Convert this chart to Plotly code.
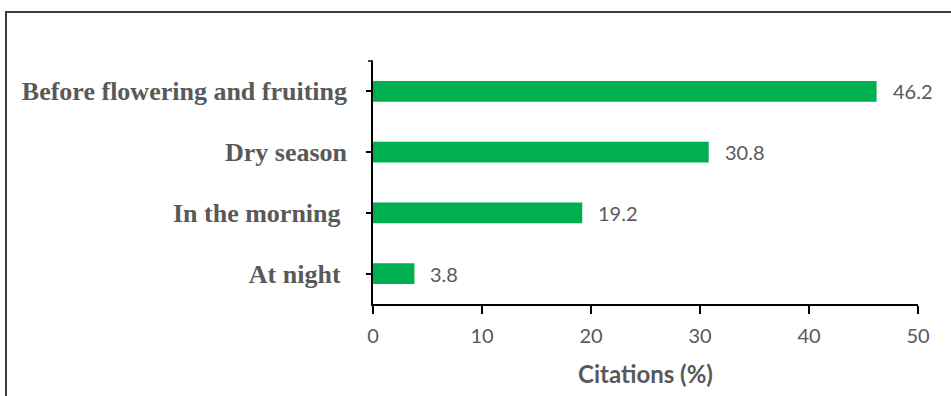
import plotly.graph_objects as go

categories = ["At night", "In the morning", "Dry season", "Before flowering and fruiting"]
category_labels = ["At night\u00a0", "In the morning\u00a0", "Dry season", "Before flowering and fruiting"]
values = [3.8, 19.2, 30.8, 46.2]
x_ticks = [0, 10, 20, 30, 40, 50]

W, H = 951, 396
ml, mr, mt, mb = 373, 33, 61, 92
pw = W - ml - mr
ph = H - mt - mb

GREEN = "#00B050"
GRAY = "#595959"

fig = go.Figure()
fig.add_trace(go.Bar(
    x=values, y=categories, orientation="h",
    marker=dict(color=GREEN, line=dict(width=0)),
    width=0.34,
    hoverinfo="skip",
))

for v, c in zip(values, categories):
    fig.add_annotation(
        x=v, y=c, xref="x", yref="y", text=f"{v:.1f}",
        showarrow=False, xanchor="left", yanchor="middle", xshift=14,
        font=dict(family="Lato", size=20, color=GRAY),
    )

# outer frame
fig.add_shape(type="rect", xref="paper", yref="paper",
              x0=(6 - ml) / pw, x1=(W + 20 - ml) / pw,
              y0=-(H + 20 - (H - mb)) / ph, y1=(H - mb - 12) / ph,
              line=dict(color="#3c3c3c", width=2), layer="below")
# small cap tick at the top of the y axis
fig.add_shape(type="line", xref="paper", yref="paper",
              x0=-5 / pw, x1=0, y0=1, y1=1,
              line=dict(color="black", width=1.5))

fig.update_layout(
    width=W, height=H,
    margin=dict(l=ml, r=mr, t=mt, b=mb),
    paper_bgcolor="white", plot_bgcolor="white",
    showlegend=False,
    bargap=0.66,
    xaxis=dict(
        range=[0, 50], tickvals=x_ticks, ticktext=[str(t) for t in x_ticks],
        showgrid=False, zeroline=False,
        showline=True, linecolor="black", linewidth=1.5,
        ticks="outside", ticklen=8, tickwidth=1.5, tickcolor="black",
        ticklabelstandoff=5,
        tickfont=dict(family="Lato", size=20, color=GRAY),
        title=dict(text="Citations (%)", standoff=20,
                   font=dict(family="Lato", size=24, color=GRAY, weight="bold")),
        fixedrange=True,
    ),
    yaxis=dict(
        categoryorder="array", categoryarray=categories,
        tickvals=categories, ticktext=category_labels,
        range=[-0.5, 3.5],
        showgrid=False, zeroline=False,
        showline=True, linecolor="black", linewidth=1.5,
        ticks="outside", ticklen=5, tickwidth=1.5, tickcolor="black",
        ticklabelstandoff=14,
        tickfont=dict(family="Liberation Serif", size=26, color=GRAY, weight="bold"),
        fixedrange=True,
    ),
)

fig.write_html("out.html", config={"displayModeBar": False})
